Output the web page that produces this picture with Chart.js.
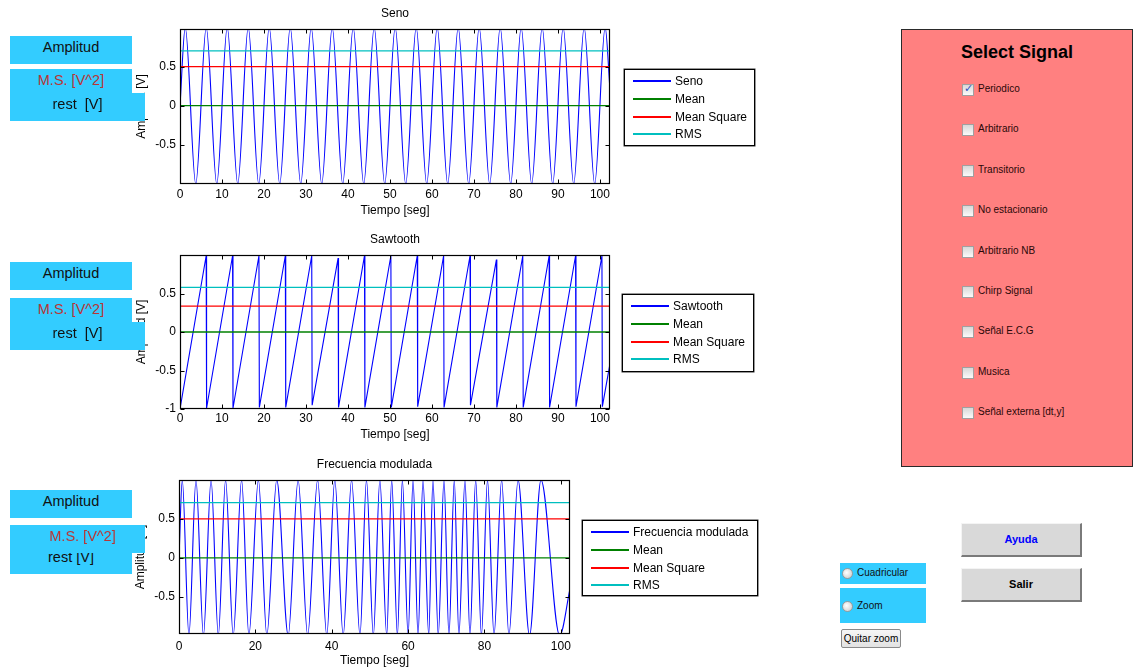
<!DOCTYPE html>
<html>
<head>
<meta charset="utf-8">
<script src="https://cdn.jsdelivr.net/npm/chart.js@4/dist/chart.umd.min.js"></script>
<style>
html,body{margin:0;padding:0;background:#fff;width:1133px;height:668px;overflow:hidden;font-family:"Liberation Sans",Arial,sans-serif;}
canvas{position:absolute;}
.blue{position:absolute;background:#33ccff;overflow:hidden;}
.btxt{position:absolute;left:0;right:0;text-align:center;font-size:14.5px;line-height:16px;white-space:pre;color:#111;}
.ms{color:#b83636;}
.legend{position:absolute;border:1px solid #000;background:#fff;box-sizing:border-box;box-shadow:0 0 0 0.5px #333;}
.lrow{position:absolute;left:0;right:0;height:18px;}
.lline{position:absolute;left:8px;width:38px;top:8px;height:2px;}
.ltxt{position:absolute;left:50px;top:0;line-height:18px;font-size:12px;color:#000;white-space:nowrap;}
#panel{position:absolute;left:901px;top:29px;width:232px;height:438px;background:#ff8080;border:1px solid #2a2a2a;box-sizing:border-box;}
.cb{position:absolute;width:10px;height:10px;border:1px solid #a0a0a0;background:linear-gradient(#d8d8d8,#fafafa);}
.cbt{position:absolute;font-size:10px;line-height:12px;color:#2a0808;white-space:nowrap;}
.btn{position:absolute;background:#d9d9d9;box-sizing:border-box;border-top:1px solid #f4f4f4;border-left:1px solid #f4f4f4;border-right:2px solid #7a7a7a;border-bottom:2px solid #7a7a7a;text-align:center;font-weight:bold;font-size:11px;}
.radio{position:absolute;width:9px;height:9px;border-radius:50%;border:1px solid #9a9a9a;background:radial-gradient(circle at 40% 40%,#fff,#c8c8c8);}
.rtxt{position:absolute;font-size:10px;line-height:12px;color:#111;white-space:nowrap;}
</style>
</head>
<body>
<canvas id="c1" width="550" height="225" style="left:120px;top:0px"></canvas>
<canvas id="c2" width="550" height="225" style="left:120px;top:226px"></canvas>
<canvas id="c3" width="550" height="217" style="left:119px;top:451px"></canvas>

<div id="leg1" class="legend" style="left:624px;top:69px;width:131px;height:77px"></div>
<div id="leg2" class="legend" style="left:622px;top:294px;width:132px;height:78px"></div>
<div id="leg3" class="legend" style="left:582px;top:520px;width:176px;height:76px"></div>

<!-- row 1 -->
<div class="blue" style="left:10px;top:36px;width:122px;height:28px"><div class="btxt" style="top:3px">Amplitud</div></div>
<div class="blue" style="left:10px;top:69px;width:122px;height:30px"><div class="btxt ms" style="top:3px">M.S. [V^2]</div></div>
<div class="blue" style="left:10px;top:93px;width:135px;height:28px"><div class="btxt" style="top:3px">rest  [V]</div></div>
<!-- row 2 -->
<div class="blue" style="left:10px;top:262px;width:122px;height:28px"><div class="btxt" style="top:3px">Amplitud</div></div>
<div class="blue" style="left:10px;top:298px;width:122px;height:30px"><div class="btxt ms" style="top:3px">M.S. [V^2]</div></div>
<div class="blue" style="left:10px;top:322px;width:135px;height:28px"><div class="btxt" style="top:3px">rest  [V]</div></div>
<!-- row 3 -->
<div class="blue" style="left:10px;top:490px;width:122px;height:28px"><div class="btxt" style="top:3px">Amplitud</div></div>
<div class="blue" style="left:10px;top:540px;width:122px;height:34px"><div class="btxt" style="top:9px">rest [V]</div></div>
<div class="blue" style="left:10px;top:525px;width:135px;height:28px"><div class="btxt ms" style="top:3px;left:2px;right:-8px;text-align:center">M.S. [V^2]</div></div>

<div id="panel"><div style="position:absolute;left:0;right:0;top:11px;text-align:center;font-weight:bold;font-size:18px;line-height:22px;color:#000">Select Signal</div></div>

<div class="btn" style="left:961px;top:523px;width:121px;height:34px;line-height:31px;color:#0000ff">Ayuda</div>
<div class="btn" style="left:961px;top:568px;width:121px;height:34px;line-height:31px;color:#000">Salir</div>

<div class="blue" style="left:840px;top:563px;width:86px;height:21px"></div>
<div class="blue" style="left:840px;top:588px;width:86px;height:35px"></div>
<div class="radio" style="left:842px;top:568px"></div><div class="rtxt" style="left:857px;top:567px">Cuadricular</div>
<div class="radio" style="left:842px;top:601px"></div><div class="rtxt" style="left:857px;top:600px">Zoom</div>
<div style="position:absolute;left:841px;top:629px;width:60px;height:19px;box-sizing:border-box;border:1px solid #8a8a8a;border-radius:2px;background:linear-gradient(#f6f6f6,#e2e2e2);font-size:10px;line-height:17px;text-align:center;color:#000">Quitar zoom</div>

<script>
// ---------- data ----------
const tEnd = 102.4;
const xTicks10 = [0,10,20,30,40,50,60,70,80,90,100];
const xTicks20 = [0,20,40,60,80,100];
const yTicksSeno = [-0.5,0,0.5];
const yTicksSaw = [-1,-0.5,0,0.5];
const yTicksFM = [-0.5,0,0.5];
const statNames = ['Mean','Mean Square','RMS'];

// Seno: extrema (time, value)
const senoT = [0,1.25,3.75,6.25,8.75,11.25,13.75,16.25,18.75,21.25,23.75,26.25,28.75,31.25,33.75,36.25,38.75,41.25,43.75,46.25,48.75,51.25,53.75,56.25,58.75,61.25,63.75,66.25,68.75,71.25,73.75,76.25,78.75,81.25,83.75,86.25,88.75,91.25,93.75,96.25,98.75,101.25,102.4];
const senoY = [0,1,-1,1,-1,1,-1,1,-1,1,-1,1,-1,1,-1,1,-1,1,-1,1,-1,1,-1,1,-1,1,-1,1,-1,1,-1,1,-1,1,-1,1,-1,1,-1,1,-1,1,0.2];
const senoStats = [0, 0.5, 0.7];

// Sawtooth: ramp tops and bottoms
const sawT = [0,6.23,6.33,12.52,12.62,18.80,18.90,25.08,25.18,31.37,31.47,37.65,37.75,43.93,44.03,50.22,50.32,56.50,56.60,62.78,62.88,69.07,69.17,75.35,75.45,81.63,81.73,87.91,88.01,94.20,94.30,100.48,100.58,102.4];
const sawY = [-1,0.99,-0.99,0.99,-0.99,0.99,-0.98,0.99,-0.98,0.99,-0.95,0.96,-0.98,0.99,-0.98,0.99,-0.98,0.99,-0.97,0.99,-0.98,0.99,-0.95,0.94,-0.98,0.99,-0.98,0.99,-0.98,0.99,-0.97,0.99,-0.97,-0.41];
const sawStats = [0, 0.335, 0.58];

// Frecuencia modulada: extrema
const fmT = [0,0.86,2.6,4.45,6.4,8.4,10.3,12.2,14.2,16.4,18.3,20.8,23.0,25.6,28.6,31.2,33.7,36.3,38.7,40.8,43.0,45.2,47.4,49.1,50.9,52.6,54.4,55.7,57.2,58.5,60.0,61.3,62.6,63.9,65.4,66.5,67.9,69.4,70.7,72.1,73.3,74.9,76.2,77.7,79.2,80.8,82.5,84.5,86.4,88.8,91.8,94.8,99.7,102.4];
const fmY = [0,1,-1,1,-1,1,-1,1,-1,1,-1,1,-1,1,-1,1,-1,1,-1,1,-1,1,-1,1,-1,1,-1,1,-1,1,-1,1,-1,1,-1,1,-1,1,-1,1,-1,1,-1,1,-1,1,-1,1,-1,1,-1,1,-1,-0.4];
const fmStats = [0, 0.5, 0.71];

const signalOptions = ['Periodico','Arbitrario','Transitorio','No estacionario','Arbitrario NB','Chirp Signal','Señal E.C.G','Musica','Señal externa [dt,y]'];
const signalChecked = [true,false,false,false,false,false,false,false,false];

// ---------- styling ----------
const signalColor = '#0000ff';
const statColors = ['#008000','#ff0000','#00bfbf'];
Chart.defaults.font.family = '"Liberation Sans", Arial, sans-serif';
Chart.defaults.color = '#000';

const framePlugin = {
  id: 'frame',
  afterDatasetsDraw(chart, args, opts) {
    const {ctx, chartArea: a, scales: {x, y}} = chart;
    ctx.save();
    ctx.strokeStyle = '#000';
    ctx.lineWidth = 1;
    const L = Math.round(a.left) + 0.5, R = Math.round(a.right) - 0.5;
    const T = Math.round(a.top) + 0.5, B = Math.round(a.bottom) - 0.5;
    ctx.beginPath();
    x.ticks.forEach(t => {
      const px = Math.round(x.getPixelForValue(t.value)) + 0.5;
      ctx.moveTo(px, B); ctx.lineTo(px, B - 4);
      ctx.moveTo(px, T); ctx.lineTo(px, T + 4);
    });
    y.ticks.forEach(t => {
      const py = Math.round(y.getPixelForValue(t.value)) + 0.5;
      ctx.moveTo(L, py); ctx.lineTo(L + 4, py);
      ctx.moveTo(R, py); ctx.lineTo(R - 4, py);
    });
    ctx.stroke();
    ctx.lineWidth = 1.2;
    ctx.strokeRect(L, T, R - L, B - T);
    ctx.fillStyle = '#000';
    ctx.font = '12px "Liberation Sans", Arial, sans-serif';
    ctx.textAlign = 'center';
    ctx.textBaseline = 'middle';
    ctx.fillText(opts.title, (a.left + a.right) / 2, 14);
    ctx.restore();
  }
};

function makeChart(id, cfg) {
  const datasets = [{
    label: cfg.name,
    data: cfg.T.map((t, i) => ({x: t, y: cfg.Y[i]})),
    borderColor: signalColor, borderWidth: 1.1, pointRadius: 0,
    cubicInterpolationMode: cfg.smooth ? 'monotone' : 'default', tension: 0,
    order: 10
  }];
  cfg.stats.forEach((v, i) => datasets.push({
    label: statNames[i],
    data: [{x: 0, y: v}, {x: tEnd, y: v}],
    borderColor: statColors[i], borderWidth: 1.3, pointRadius: 0, order: i
  }));
  return new Chart(document.getElementById(id), {
    type: 'line',
    data: {datasets},
    options: {
      responsive: false, animation: false, events: [],
      layout: {padding: {top: 29, right: cfg.padR, left: 0, bottom: 0}},
      plugins: {legend: {display: false}, tooltip: {enabled: false}, title: {display: false}, frame: {title: cfg.name}},
      scales: {
        x: {
          type: 'linear', min: 0, max: tEnd,
          grid: {display: false, drawTicks: false}, border: {display: false},
          afterFit(s) { s.height = cfg.xH; },
          afterBuildTicks(s) { s.ticks = cfg.xTicks.map(v => ({value: v})); },
          ticks: {padding: cfg.xTickPad, font: {size: 12}, maxRotation: 0, autoSkip: false, callback: v => String(v)},
          title: {display: true, text: 'Tiempo [seg]', font: {size: 12}, padding: {top: 0, bottom: cfg.xTitlePad}}
        },
        y: {
          type: 'linear', min: cfg.yMin, max: cfg.yMax,
          grid: {display: false, drawTicks: false}, border: {display: false},
          afterFit(s) { s.width = 60; },
          afterBuildTicks(s) { s.ticks = cfg.yTicks.map(v => ({value: v})); },
          ticks: {padding: 4, font: {size: 12}, autoSkip: false, callback: v => String(v)},
          title: {display: true, text: 'Amplitud [V]', font: {size: 12}, padding: {top: 14, bottom: 0}}
        }
      }
    },
    plugins: [framePlugin]
  });
}

const charts = [
  makeChart('c1', {name: 'Seno', T: senoT, Y: senoY, stats: senoStats, smooth: true, padR: 60, xH: 41, xTickPad: 3, xTitlePad: 7, xTicks: xTicks10, yTicks: yTicksSeno, yMin: -1, yMax: 0.98}),
  makeChart('c2', {name: 'Sawtooth', T: sawT, Y: sawY, stats: sawStats, smooth: false, padR: 60, xH: 42, xTickPad: 2, xTitlePad: 9, xTicks: xTicks10, yTicks: yTicksSaw, yMin: -1, yMax: 1}),
  makeChart('c3', {name: 'Frecuencia modulada', T: fmT, Y: fmY, stats: fmStats, smooth: true, padR: 99, xH: 34, xTickPad: 5, xTitlePad: 0, xTicks: xTicks20, yTicks: yTicksFM, yMin: -0.98, yMax: 1})
];

// legends built from chart datasets
['leg1','leg2','leg3'].forEach((id, k) => {
  const el = document.getElementById(id);
  charts[k].data.datasets.forEach((ds, i) => {
    const row = document.createElement('div');
    row.className = 'lrow';
    row.style.top = Math.round(2 + 17.8 * i) + 'px';
    row.innerHTML = '<div class="lline" style="background-color:' + ds.borderColor + '"></div><div class="ltxt">' + ds.label + '</div>';
    el.appendChild(row);
  });
});

// signal selector
const panel = document.getElementById('panel');
signalOptions.forEach((name, i) => {
  const yc = 60 + 40.4 * i; // relative to panel top
  const cb = document.createElement('div');
  cb.className = 'cb';
  cb.style.left = '60px';
  cb.style.top = Math.round(yc - 6) + 'px';
  if (signalChecked[i]) cb.innerHTML = '<span style="position:absolute;left:1px;top:-3px;font-size:11px;color:#3050c0;font-family:DejaVu Sans">✓</span>';
  panel.appendChild(cb);
  const t = document.createElement('div');
  t.className = 'cbt';
  t.style.left = '76px';
  t.style.top = Math.round(yc - 7) + 'px';
  t.textContent = name;
  panel.appendChild(t);
});
</script>
</body>
</html>
